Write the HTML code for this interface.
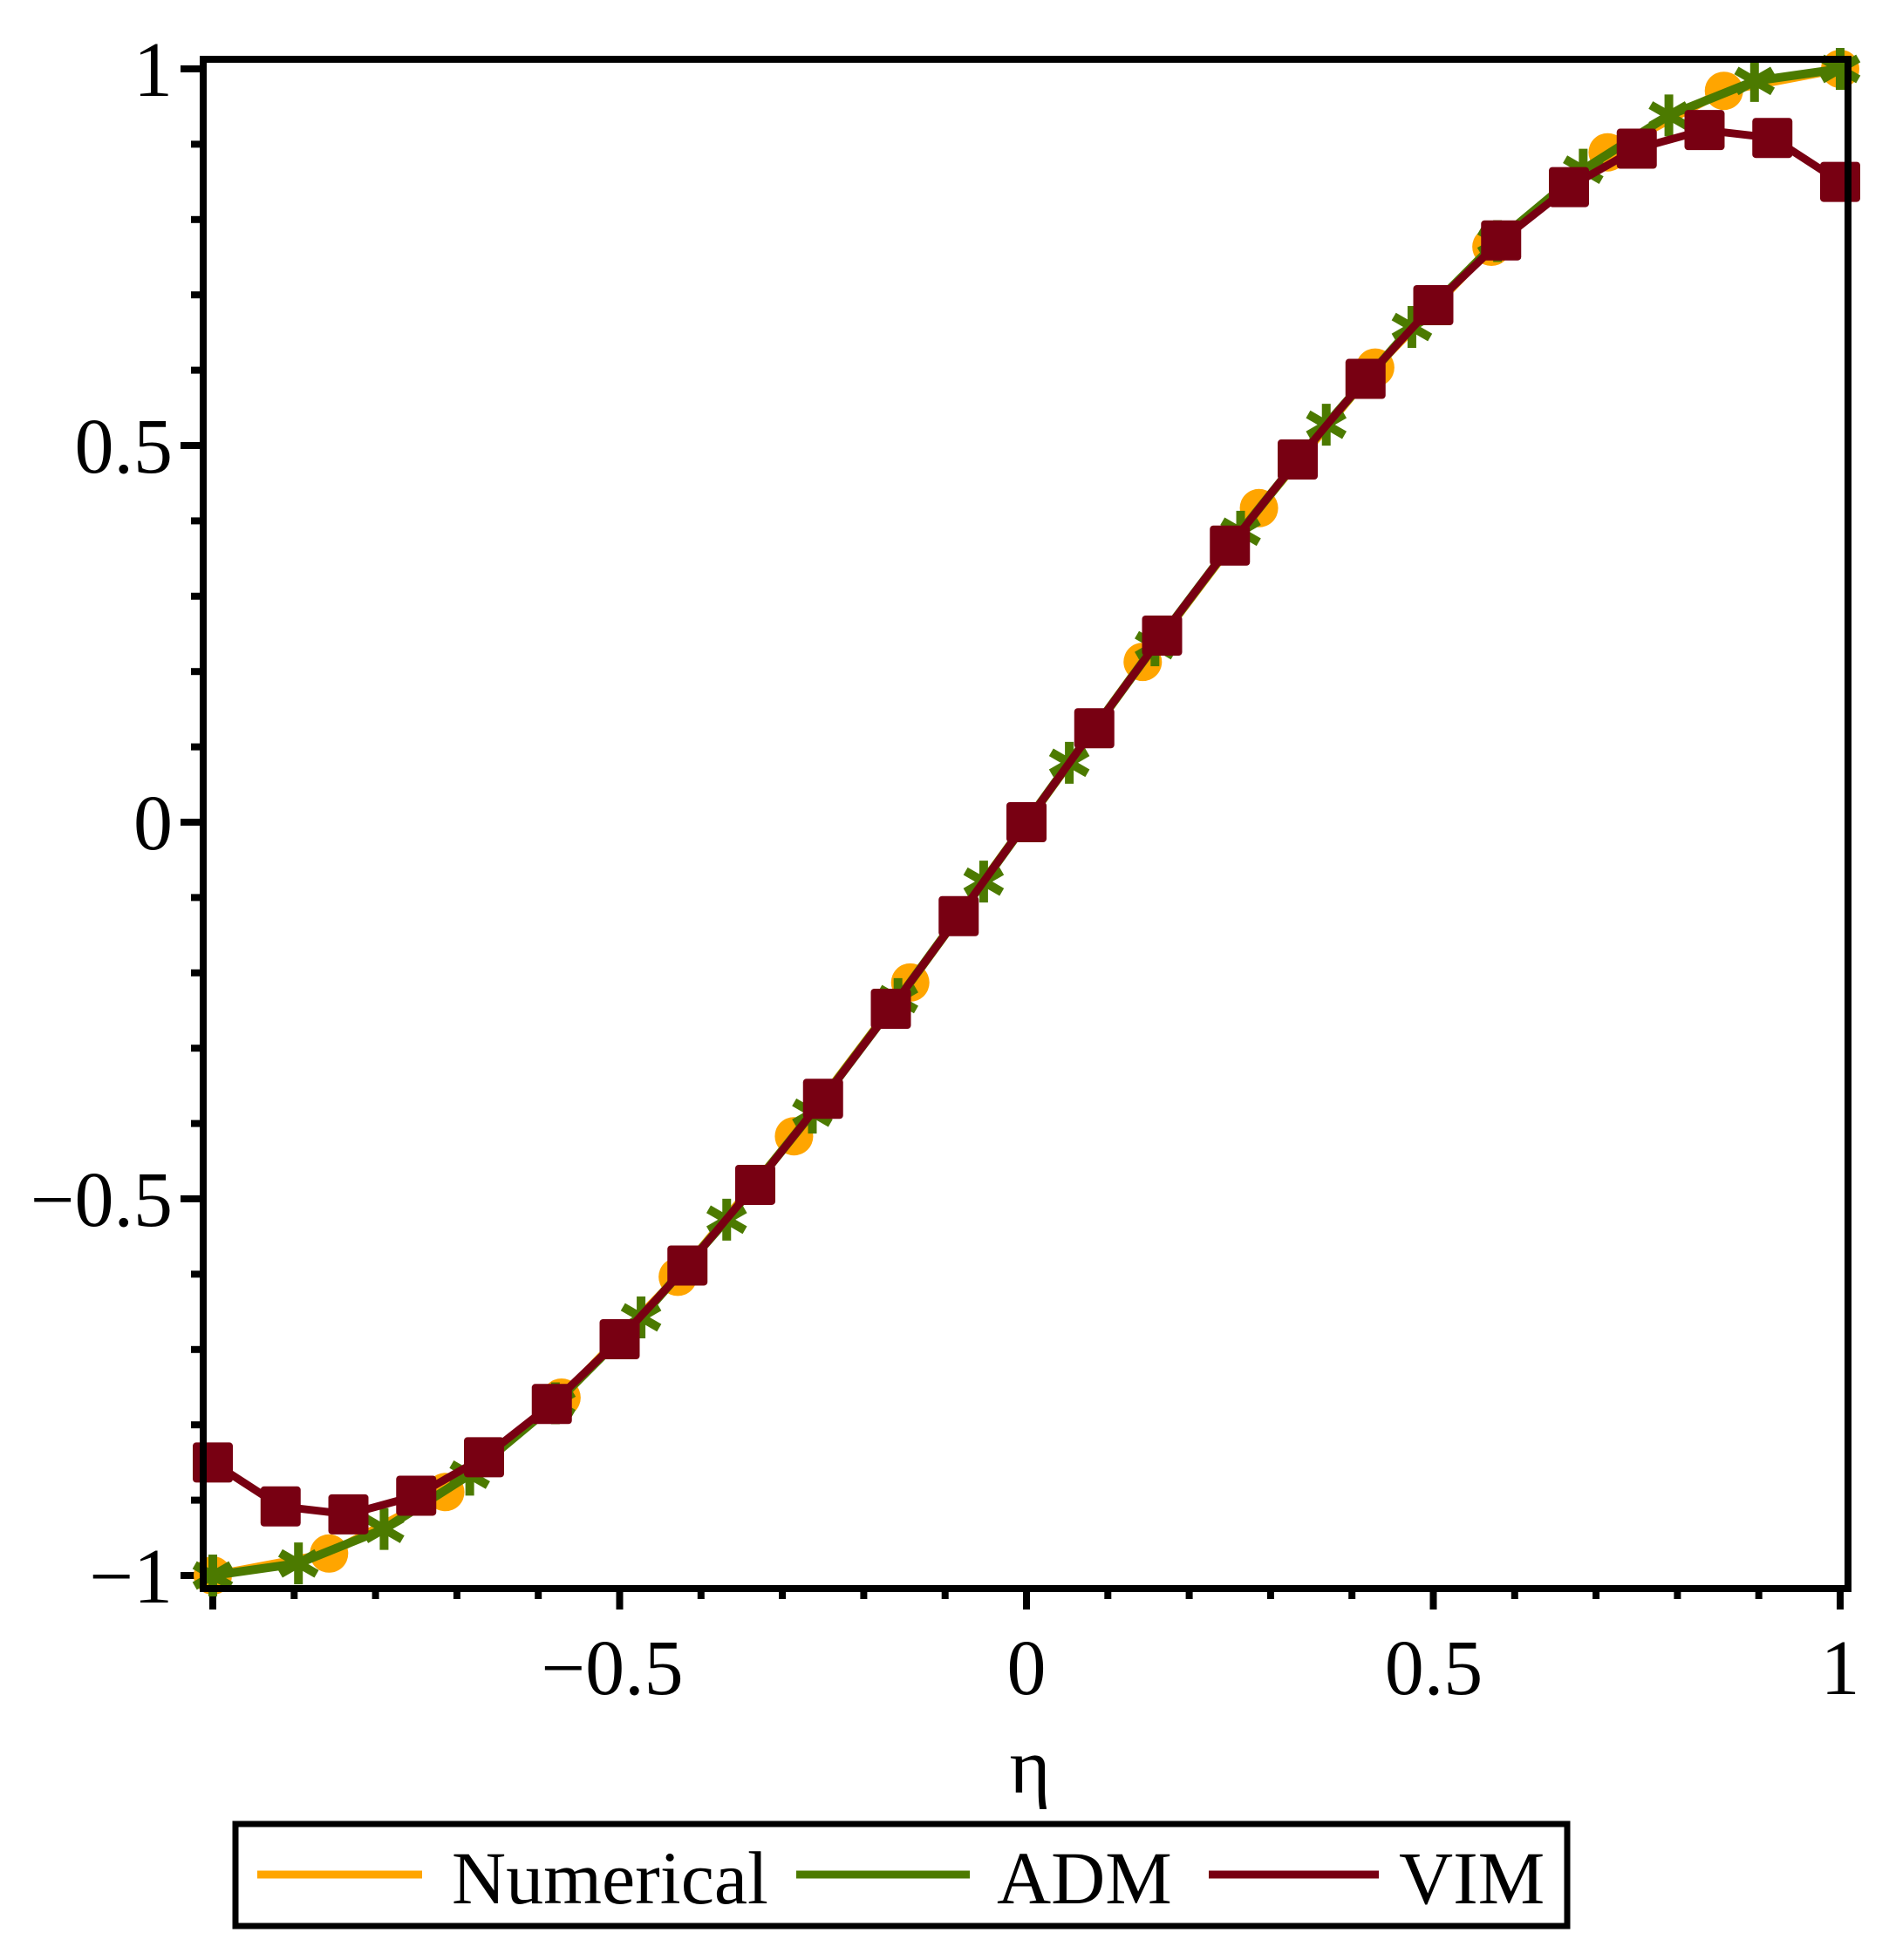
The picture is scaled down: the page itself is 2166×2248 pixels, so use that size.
<!DOCTYPE html>
<html><head><meta charset="utf-8"><style>
html,body{margin:0;padding:0;background:#fff;}
svg{display:block;}
text{font-family:"Liberation Serif",serif;fill:#000;}
</style></head><body>
<svg id="s" width="2166" height="2248" viewBox="0 0 2166 2248" xmlns="http://www.w3.org/2000/svg">
<rect x="0" y="0" width="2166" height="2248" fill="#fff"/>
<g id="ticks" stroke="#000" stroke-width="8"></g>
<g id="series"></g>
<rect x="233" y="68" width="1886" height="1754" fill="none" stroke="#000" stroke-width="8"/>
<g font-size="90" text-anchor="end">
<text x="198" y="110">1</text>
<text x="198" y="542">0.5</text>
<text x="198" y="974">0</text>
<text x="198" y="1406">−0.5</text>
<text x="198" y="1838">−1</text>
</g>
<g font-size="90" text-anchor="middle">
<text x="702" y="1943">−0.5</text>
<text x="1177" y="1943">0</text>
<text x="1644" y="1943">0.5</text>
<text x="2110" y="1943">1</text>
<text x="1181" y="2056">η</text>
</g>
<rect x="270" y="2092" width="1527" height="117" fill="none" stroke="#000" stroke-width="7"/>
<line x1="295" y1="2150" x2="484" y2="2150" stroke="#FFA500" stroke-width="9"/>
<line x1="913" y1="2150" x2="1112" y2="2150" stroke="#4C7A00" stroke-width="9"/>
<line x1="1386" y1="2150" x2="1581" y2="2150" stroke="#780012" stroke-width="9"/>
<g font-size="86">
<text x="518" y="2183">Numerical</text>
<text x="1143" y="2183">ADM</text>
<text x="1604" y="2183">VIM</text>
</g>
</svg>
<script>
(function(){
var NS="http://www.w3.org/2000/svg";
function X(x){return 1177+933*x;}
function Y(y){return 943-864*y;}
function el(p,n,a){var e=document.createElementNS(NS,n);for(var k in a)e.setAttribute(k,a[k]);p.appendChild(e);return e;}
var t=document.getElementById("ticks");
for(var i=-10;i<=10;i++){var y=Y(i/10);var maj=(i%5===0);
 el(t,"line",{x1:maj?207:219,y1:y,x2:233,y2:y});
 var x=X(i/10); el(t,"line",{x1:x,y1:1822,x2:x,y2:maj?1846:1834});}
var s=document.getElementById("series");
function f(x){return (3*x-x*x*x)/2;}
function v(x){return f(x)-0.15*Math.pow(x,7);}
function pts(n,fn){var a=[];for(var k=0;k<n;k++){var x=-1+2*k/(n-1);a.push([X(x),Y(fn(x))]);}return a;}
function line(a,c,w){el(s,"polyline",{points:a.map(function(p){return p[0].toFixed(1)+","+p[1].toFixed(1)}).join(" "),fill:"none",stroke:c,"stroke-width":w,"stroke-linejoin":"round"});}
var num=pts(15,f); line(num,"#FFA500",10);
num.forEach(function(p){el(s,"circle",{cx:p[0],cy:p[1],r:22,fill:"#FFA500"});});
var adm=pts(20,f); line(adm,"#4C7A00",10);
adm.forEach(function(p){for(var a=0;a<3;a++){var ang=Math.PI/2+a*Math.PI/3;var dx=24*Math.cos(ang),dy=24*Math.sin(ang);
 el(s,"line",{x1:p[0]-dx,y1:p[1]-dy,x2:p[0]+dx,y2:p[1]+dy,stroke:"#4C7A00","stroke-width":10});}});
var vim=pts(25,v); line(vim,"#780012",9);
vim.forEach(function(p){el(s,"rect",{x:p[0]-23,y:p[1]-23,width:46,height:46,rx:4,fill:"#780012"});});
})();
</script>
</body></html>
